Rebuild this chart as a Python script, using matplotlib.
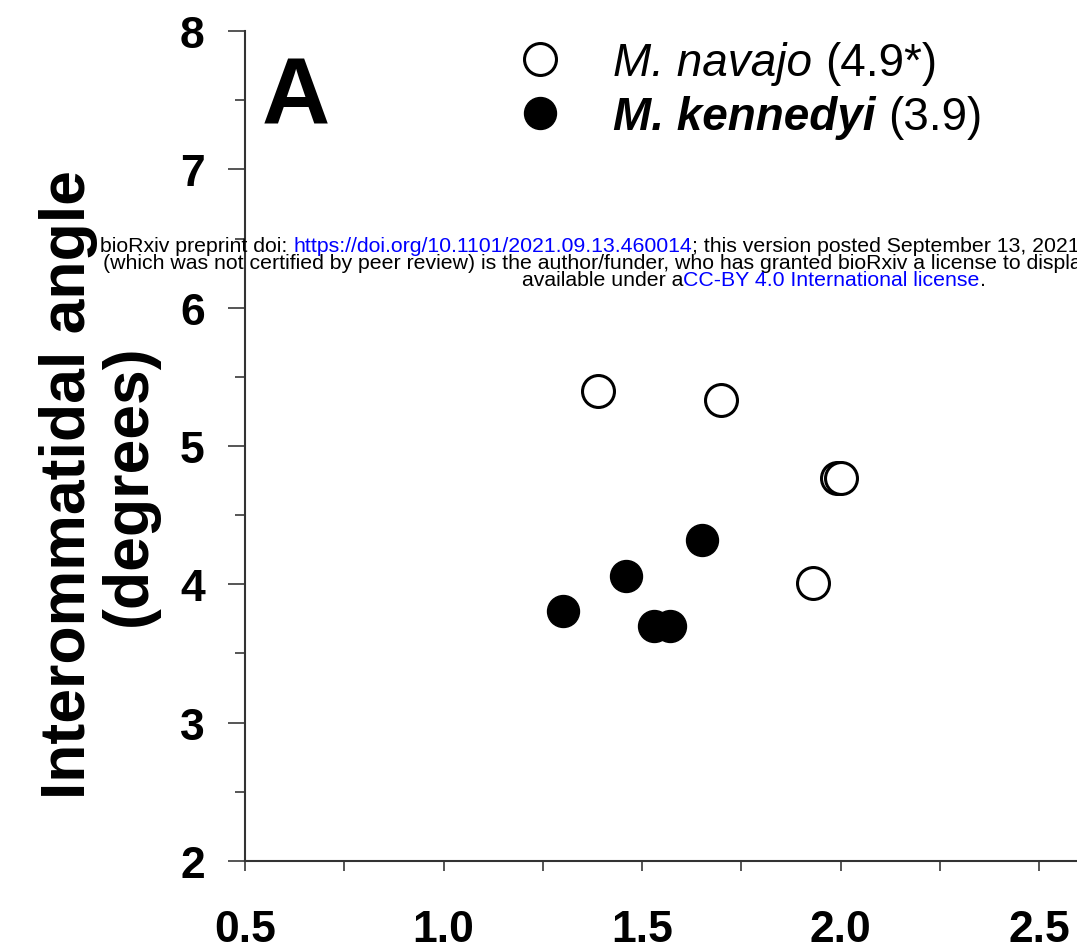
import matplotlib
matplotlib.use("Agg")
import matplotlib.pyplot as plt
from matplotlib.ticker import MultipleLocator
from matplotlib.transforms import IdentityTransform
from matplotlib.font_manager import FontProperties

# --- data ---
navajo_x = [1.39, 1.70, 1.99, 2.00, 1.93]
navajo_y = [5.40, 5.33, 4.77, 4.77, 4.01]
kennedyi_x = [1.30, 1.46, 1.65, 1.53, 1.57]
kennedyi_y = [3.81, 4.06, 4.32, 3.70, 3.70]

species = ["M. navajo", "M. kennedyi"]
species_means = ["(4.9*)", "(3.9)"]

y_label = "Interommatidal angle\n(degrees)"
panel_letter = "A"

W, H = 1077, 953

plt.rcParams['font.family'] = ['Liberation Sans', 'DejaVu Sans']

fig = plt.figure(figsize=(W / 100, H / 100), dpi=100)

# axes placed in pixel terms of the reference (right side runs off the image)
x0, x1 = 0.5, 2.6
px_per_x = 397.0
left, right = 245, 245 + (x1 - x0) * px_per_x
top, bottom = 32, 862
ax = fig.add_axes([left / W, 1 - bottom / H, (right - left) / W, (bottom - top) / H])

ax.plot(navajo_x, navajo_y, 'o', ls='none', ms=23, mfc='white', mec='black', mew=2.2,
        label=species[0], clip_on=False)
ax.plot(kennedyi_x, kennedyi_y, 'o', ls='none', ms=23, mfc='black', mec='black', mew=1,
        label=species[1], clip_on=False)

ax.set_xlim(x0, x1)
ax.set_ylim(2, 8)
ax.xaxis.set_major_locator(MultipleLocator(0.5))
ax.xaxis.set_minor_locator(MultipleLocator(0.25))
ax.yaxis.set_major_locator(MultipleLocator(1))
ax.yaxis.set_minor_locator(MultipleLocator(0.5))
ax.set_xticklabels([f"{v:.1f}" for v in ax.get_xticks()])

for s in ['top', 'right']:
    ax.spines[s].set_visible(False)
for s in ['left', 'bottom']:
    ax.spines[s].set_color('#333333')
    ax.spines[s].set_linewidth(1.5)

ax.tick_params(axis='y', which='major', length=12, width=1.4, color='#555555',
               labelsize=32, pad=17)
ax.tick_params(axis='y', which='minor', length=7, width=1.4, color='#555555')
ax.tick_params(axis='x', which='both', length=7.5, width=1.4, color='#555555',
               labelsize=32, pad=27)
for lab in ax.get_xticklabels() + ax.get_yticklabels():
    lab.set_fontweight('bold')

fig.text(99 / W, 1 - 485 / H, y_label, rotation=90, ha='center', va='center',
         multialignment='center', fontsize=45, fontweight='bold', linespacing=1.05)
fig.text(262 / W, 1 - 125 / H, panel_letter, fontsize=68, fontweight='bold',
         ha='left', va='baseline')

leg_size = 33
leg = ax.legend(loc='center left', bbox_to_anchor=(517 / W, 1 - 91 / H),
                bbox_transform=fig.transFigure, frameon=False, fontsize=leg_size,
                handlelength=1.0, handletextpad=1.1, labelspacing=0.22,
                borderpad=0, borderaxespad=0)
leg_texts = leg.get_texts()
leg_texts[0].set_style('italic')
leg_texts[1].set_style('italic')
leg_texts[1].set_weight('bold')

fig.canvas.draw()
renderer = fig.canvas.get_renderer()

# the means in brackets follow the species names in upright type
fp_leg = FontProperties(family='Liberation Sans', size=leg_size)
space_w = (renderer.get_text_width_height_descent('a a', fp_leg, ismath=False)[0]
           - renderer.get_text_width_height_descent('aa', fp_leg, ismath=False)[0])
for t, m in zip(leg_texts, species_means):
    bb = t.get_window_extent(renderer)
    bx, by = t.get_transform().transform(t.get_position())
    fig.text(bb.x1 + space_w, by, m, fontproperties=fp_leg, transform=IdentityTransform(),
             ha='left', va=t.get_va())

# --- bioRxiv stamp overlaid on the page ---
stamp_size = 15.3
blue = '#0000FF'
stamp_lines = [
    (100, 247, [("bioRxiv preprint doi: ", 'black'),
                ("https://doi.org/10.1101/2021.09.13.460014", blue),
                ("; this version posted September 13, 2021", 'black')]),
    (103, 264, [("(which was not certified by peer review) is the author/funder, who has granted "
                 "bioRxiv a license to display", 'black')]),
    (522, 281, [("available under a", 'black'),
                ("CC-BY 4.0 International license", blue),
                (".", 'black')]),
]

fp = FontProperties(family='Liberation Sans', size=stamp_size)


def text_width(s):
    w_bar = renderer.get_text_width_height_descent('|', fp, ismath=False)[0]
    w = renderer.get_text_width_height_descent(s + '|', fp, ismath=False)[0]
    return w - w_bar


for sx, sy, pieces in stamp_lines:
    done = ""
    for s, c in pieces:
        xx = sx + (text_width(done) if done else 0)
        fig.text(xx, H - sy, s, color=c, fontproperties=fp, transform=IdentityTransform(),
                 ha='left', va='center')
        done += s

fig.savefig("out.png", dpi=100)
